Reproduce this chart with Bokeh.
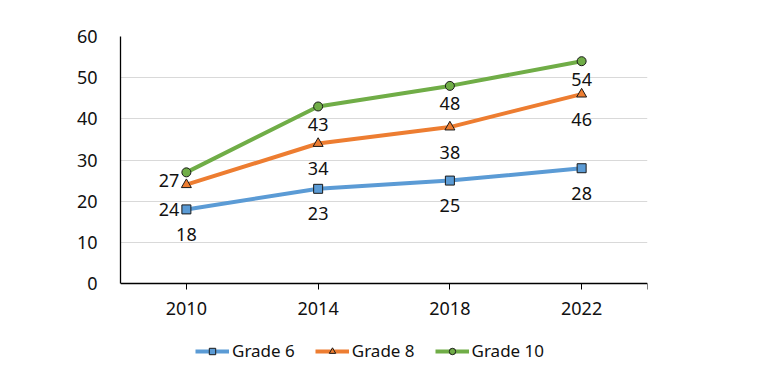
from bokeh.plotting import figure
from bokeh.models import (ColumnDataSource, FixedTicker, Legend, LegendItem, Range1d,
                          LinearAxis)
from bokeh.core.properties import value
from bokeh.embed import file_html
from bokeh.resources import INLINE

years = ["2010", "2014", "2018", "2022"]
grade6 = [18, 23, 25, 28]
grade8 = [24, 34, 38, 46]
grade10 = [27, 43, 48, 54]
series_names = ["Grade 6", "Grade 8", "Grade 10"]
y_ticks = [0, 10, 20, 30, 40, 50, 60]

# styling
colors = ["#5B9BD5", "#ED7D31", "#70AD47"]
markers = ["square", "triangle", "circle"]
FONT = "Noto Sans"
FS = "18px"
TXT = "#111111"
# label offsets (px) per series per point: (dx, dy, align)
label_style = [
    [(0, 25, "center")] * 4,
    [(-7, 25, "right"), (0, 25, "center"), (0, 25, "center"), (0, 25, "center")],
    [(-7, 8, "right"), (0, 18, "center"), (0, 18, "center"), (0, 18, "center")],
]

xs = list(range(len(years)))
Y_TOP = 60
# frame extends below the value axis to hold tick labels and legend
PX_PER_UNIT = 247 / Y_TOP
Y_BOTTOM = -88 / PX_PER_UNIT

p = figure(frame_width=527, frame_height=335, output_backend="svg", toolbar_location=None,
           x_range=Range1d(-0.5, len(years) - 0.5), y_range=Range1d(Y_BOTTOM, Y_TOP),
           x_axis_location=None,
           min_border_left=120, min_border_right=97, min_border_top=36, min_border_bottom=0)
p.outline_line_color = None
p.background_fill_color = "white"

# x axis placed at value 0 inside the frame
xaxis = LinearAxis(fixed_location=0)
xaxis.ticker = FixedTicker(ticks=xs + [len(years) - 0.5])
overrides = {i: y for i, y in enumerate(years)}
overrides[len(years) - 0.5] = ""
xaxis.major_label_overrides = overrides
xaxis.axis_line_color = "black"
xaxis.axis_line_width = 1.3
xaxis.major_tick_line_color = "black"
xaxis.major_tick_in = 0
xaxis.major_tick_out = 6
xaxis.minor_tick_line_color = None
xaxis.major_label_text_font = FONT
xaxis.major_label_text_font_size = FS
xaxis.major_label_text_color = TXT
xaxis.major_label_standoff = 12
p.add_layout(xaxis, "below")

p.yaxis.ticker = FixedTicker(ticks=y_ticks)
p.yaxis.bounds = (0, Y_TOP)
p.yaxis.axis_line_color = "black"
p.yaxis.axis_line_width = 1.3
p.yaxis.major_tick_line_color = None
p.yaxis.minor_tick_line_color = None
p.yaxis.major_label_text_font = FONT
p.yaxis.major_label_text_font_size = FS
p.yaxis.major_label_text_color = TXT
p.yaxis.major_label_standoff = 17

p.xgrid.grid_line_color = None
p.ygrid.grid_line_color = "#D9D9D9"
p.ygrid.grid_line_width = 1

items = []
for k, vals in enumerate([grade6, grade8, grade10]):
    src = ColumnDataSource(dict(x=xs, y=vals))
    ln = p.line("x", "y", source=src, line_color=colors[k], line_width=4)
    mk = p.scatter("x", "y", source=src, marker=markers[k], size=9 if markers[k] != "triangle" else 10,
                   fill_color=colors[k], line_color="#1a1a1a", line_width=1)
    items.append(LegendItem(label=series_names[k], renderers=[ln, mk]))
    for i, v in enumerate(vals):
        dx, dy, align = label_style[k][i]
        p.text(x=[xs[i]], y=[v], text=[str(v)], x_offset=dx, y_offset=dy,
               text_align=align, text_baseline="middle",
               text_font=value(FONT), text_font_size=FS, text_color=TXT)

legend = Legend(items=items, orientation="horizontal", location=(75, 9),
                glyph_width=34, glyph_height=16, label_standoff=3, spacing=20,
                label_text_font=FONT, label_text_font_size="17px", label_text_color=TXT,
                border_line_color=None, background_fill_alpha=0, padding=4, margin=0)
p.add_layout(legend, "center")

open("out.html", "w").write(file_html(p, INLINE))
